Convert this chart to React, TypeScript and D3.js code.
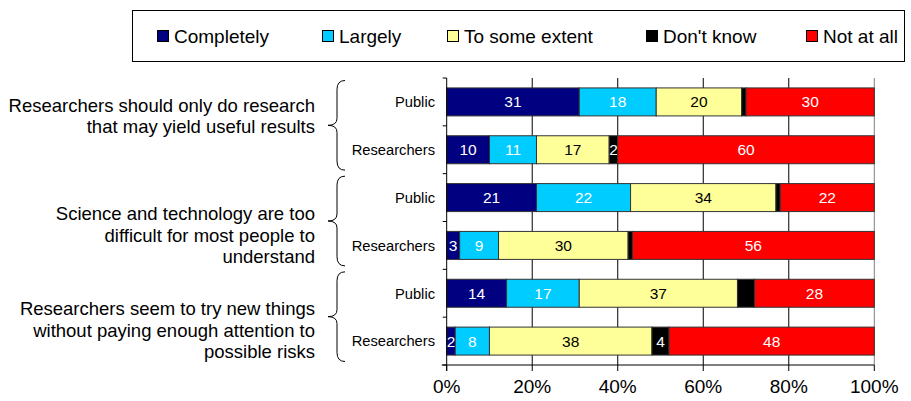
import React from "react";
import * as d3 from "d3";

const seriesNames = ["Completely", "Largely", "To some extent", "Don't know", "Not at all"];
const seriesColors = ["#000080", "#00CCFF", "#FFFF99", "#000000", "#FF0000"];
const labelColors = ["#FFFFFF", "#FFFFFF", "#000000", "#FFFFFF", "#FFFFFF"];

const rowLabels = ["Public", "Researchers", "Public", "Researchers", "Public", "Researchers"];
const completely = [31, 10, 21, 3, 14, 2];
const largely = [18, 11, 22, 9, 17, 8];
const someExtent = [20, 17, 34, 30, 37, 38];
const dontKnow = [1, 2, 1, 1, 4, 4];
const notAtAll = [30, 60, 22, 56, 28, 48];
// whether the "Don't know" value is labelled in the original
const dontKnowLabelled = [false, true, false, false, false, true];

const groupLabels = [
  ["Researchers should only do research", "that may yield useful results"],
  ["Science and technology are too", "difficult for most people to", "understand"],
  ["Researchers seem to try new things", "without paying enough attention to", "possible risks"],
];

const xTicks = [0, 0.2, 0.4, 0.6, 0.8, 1];

const FONT = "'Liberation Sans', Arial, sans-serif";

export default function App() {
  const W = 911, H = 401;
  const x0 = 446.7, x1 = 874.3, yTop = 78, yBot = 365;

  const table = rowLabels.map((r, i) => ({
    key: String(i),
    "0": completely[i],
    "1": largely[i],
    "2": someExtent[i],
    "3": dontKnow[i],
    "4": notAtAll[i],
  }));
  const stack = d3.stack<any>().keys(["0", "1", "2", "3", "4"]).offset(d3.stackOffsetExpand);
  const series = stack(table);

  const x = d3.scaleLinear().domain([0, 1]).range([x0, x1]);
  const y = d3
    .scaleBand<string>()
    .domain(rowLabels.map((_, i) => String(i)))
    .range([yTop, yBot])
    .paddingInner(0.415)
    .paddingOuter(0.2075);
  const step = y.step();

  const groupFirstBaseline = [111.7, 220, 315];
  const lineH = 21.7;

  const legendX = [157, 322, 447, 646, 806];

  return (
    <svg width={W} height={H} style={{ position: "absolute", left: 0, top: 0, background: "#fff" }} fontFamily={FONT}>
      {/* legend */}
      <rect x={132.5} y={10.5} width={772} height={51} fill="#fff" stroke="#000" strokeWidth={1} />
      {seriesNames.map((n, i) => (
        <g key={n}>
          <rect x={legendX[i] + 0.5} y={30.5} width={11} height={11} fill={seriesColors[i]} stroke="#000" strokeWidth={1} />
          <text x={legendX[i] + 17} y={43} fontSize={19} fill="#000">{n}</text>
        </g>
      ))}

      {/* gridlines */}
      {xTicks.slice(1).map((t) => (
        <line key={t} x1={x(t)} x2={x(t)} y1={yTop} y2={yBot} stroke={t === 1 ? "#808080" : "#000"} strokeWidth={1} />
      ))}

      {/* bars */}
      {series.map((s, si) =>
        s.map((d, ri) => {
          const bx = x(d[0]);
          const bw = x(d[1]) - x(d[0]);
          const by = y(String(ri))!;
          const bh = y.bandwidth();
          const v = (d.data as any)[String(si)] as number;
          const show = si !== 3 || dontKnowLabelled[ri];
          return (
            <g key={`${si}-${ri}`}>
              <rect x={bx} y={by} width={bw} height={bh} fill={seriesColors[si]} stroke="#333" strokeWidth={1} />
              {show && (
                <text
                  x={bx + bw / 2}
                  y={by + bh / 2}
                  dy="0.36em"
                  textAnchor="middle"
                  fontSize={15.5}
                  fill={labelColors[si]}
                >
                  {v}
                </text>
              )}
            </g>
          );
        })
      )}

      {/* y axis */}
      <line x1={x0} x2={x0} y1={yTop} y2={yBot + 6} stroke="#000" />
      {rowLabels.map((_, i) => (
        <line key={i} x1={x0 - 4} x2={x0} y1={yTop + step * (i + 1)} y2={yTop + step * (i + 1)} stroke="#000" />
      ))}
      <line x1={x0 - 4} x2={x0} y1={yTop} y2={yTop} stroke="#000" />
      {rowLabels.map((r, i) => (
        <text key={i} x={435} y={y(String(i))! + y.bandwidth() / 2} dy="0.36em" textAnchor="end" fontSize={14.7} fill="#000">
          {r}
        </text>
      ))}

      {/* x axis */}
      <line x1={x0 - 5} x2={x1} y1={yBot} y2={yBot} stroke="#000" />
      {xTicks.map((t) => (
        <g key={t}>
          <line x1={x(t)} x2={x(t)} y1={yBot} y2={yBot + 6} stroke="#000" />
          <text x={x(t)} y={393} textAnchor="middle" fontSize={19} fill="#000">
            {d3.format(".0%")(t)}
          </text>
        </g>
      ))}

      {/* braces and group labels */}
      {groupLabels.map((lines, gi) => {
        const top = yTop + step * gi * 2 + 2.5;
        const bot = yTop + step * (gi * 2 + 2) - 3.5;
        const mid = (top + bot) / 2;
        const xr = 345, xm = 337, xp = 328;
        const p = `M ${xr} ${top} Q ${xm} ${top} ${xm} ${top + 9} L ${xm} ${mid - 7} Q ${xm} ${mid} ${xp} ${mid} Q ${xm} ${mid} ${xm} ${mid + 7} L ${xm} ${bot - 9} Q ${xm} ${bot} ${xr} ${bot}`;
        return (
          <g key={gi}>
            <path d={p} fill="none" stroke="#000" strokeWidth={1} />
            {lines.map((l, li) => (
              <text key={li} x={315} y={groupFirstBaseline[gi] + li * lineH} textAnchor="end" fontSize={18.5} fill="#000">
                {l}
              </text>
            ))}
          </g>
        );
      })}
    </svg>
  );
}
